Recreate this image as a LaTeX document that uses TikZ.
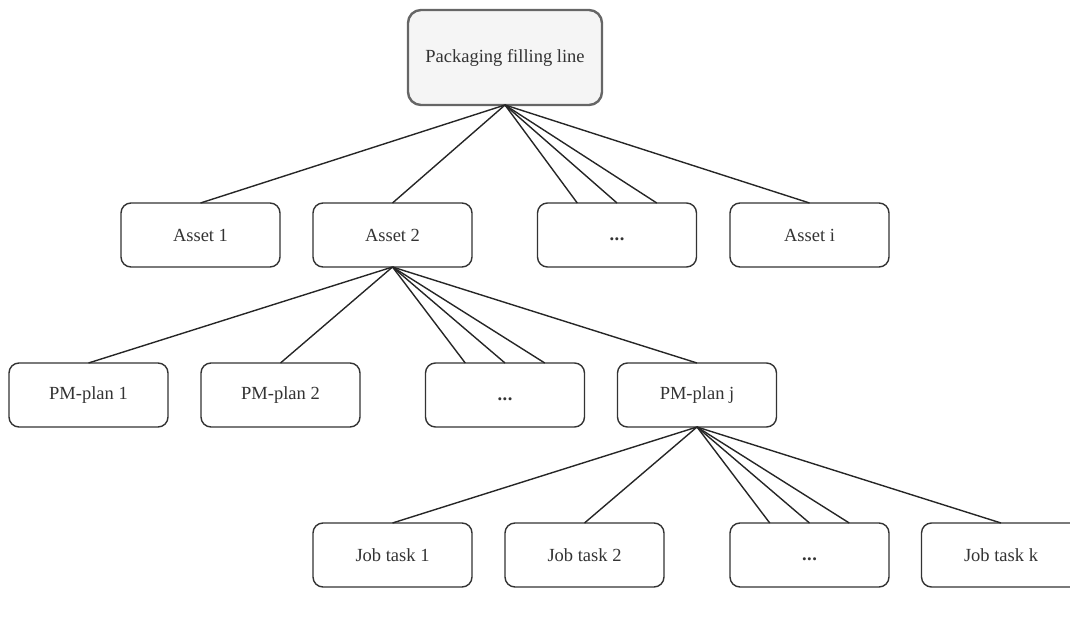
\documentclass[tikz,border=0pt]{standalone}
\usepackage{fontspec}
\setmainfont{Liberation Serif}
\usetikzlibrary{calc}
\definecolor{boxline}{HTML}{333333}
\definecolor{rootline}{HTML}{666666}
\definecolor{rootfill}{HTML}{F5F5F5}
\definecolor{txt}{HTML}{333333}
% ellipsis sitting on the text baseline
\newcommand{\elide}{\vphantom{A}\textbf{.\kern0.5pt.\kern0.5pt.}}
\tikzset{
  leaf/.style={draw=boxline, line width=1.4pt, rounded corners=10pt, fill=white,
    minimum width=159pt, minimum height=64pt, inner sep=0pt, outer sep=0pt,
    text=txt, font=\fontsize{18.5}{22}\selectfont},
  rootbox/.style={leaf, draw=rootline, line width=2.4pt, fill=rootfill,
    rounded corners=13pt, minimum width=194pt, minimum height=95pt},
  link/.style={draw=black!85, line width=1.4pt}
}
\begin{document}
\begin{tikzpicture}[x=1pt, y=-1pt]
\useasboundingbox (0,0) rectangle (1070,617);

% root
\node[rootbox] (root) at (505,57.5) {Packaging filling line};

% assets
\node[leaf] (a1) at (200.5,235) {Asset 1};
\node[leaf] (a2) at (392.5,235) {Asset 2};
\node[leaf] (ad) at (617,235) {\elide};
\node[leaf] (ai) at (809.5,235) {Asset i};

% preventive maintenance plans
\node[leaf] (p1) at (88.5,395) {PM-plan 1};
\node[leaf] (p2) at (280.5,395) {PM-plan 2};
\node[leaf] (pd) at (505,395) {\elide};
\node[leaf] (pj) at (697,395) {PM-plan j};

% job tasks
\node[leaf] (j1) at (392.5,555) {Job task 1};
\node[leaf] (j2) at (584.5,555) {Job task 2};
\node[leaf] (jd) at (809.5,555) {\elide};
\node[leaf] (jk) at (1001,555) {Job task k};

% connectors
\foreach \t in {a1,a2,ai} \draw[link] (root.south) -- (\t.north);
\foreach \f in {0.25,0.5,0.75}
  \draw[link] (root.south) -- ($(ad.north west)!\f!(ad.north east)$);

\foreach \t in {p1,p2,pj} \draw[link] (a2.south) -- (\t.north);
\foreach \f in {0.25,0.5,0.75}
  \draw[link] (a2.south) -- ($(pd.north west)!\f!(pd.north east)$);

\foreach \t in {j1,j2,jk} \draw[link] (pj.south) -- (\t.north);
\foreach \f in {0.25,0.5,0.75}
  \draw[link] (pj.south) -- ($(jd.north west)!\f!(jd.north east)$);
\end{tikzpicture}
\end{document}
